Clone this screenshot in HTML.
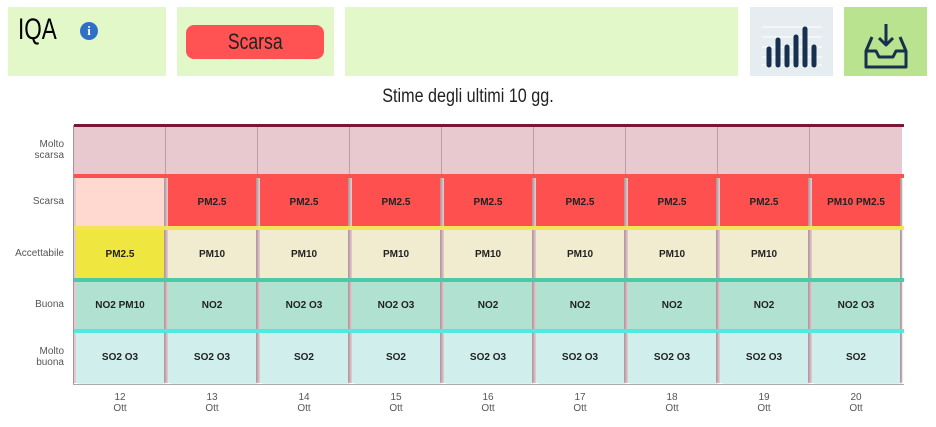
<!DOCTYPE html>
<html><head><meta charset="utf-8"><style>
body{margin:0;width:936px;height:427px;background:#fff;font-family:"Liberation Sans",sans-serif;position:relative;overflow:hidden}
.box{position:absolute;top:7px;height:69px;background:#e2f8c9}
.g{position:absolute;left:74px;top:125px;width:828px;height:258px;display:grid;grid-template-columns:repeat(9,92px);grid-template-rows:51px 52px 52px 51px 52px;background:#e8c9d0}
.g div{margin:0 2px;display:flex;align-items:center;justify-content:center;font-size:10px;font-weight:bold;color:#222;box-shadow:2px 0 2px rgba(0,0,0,.25)}
.e{background:transparent;box-shadow:none!important;border-right:1px solid #b8a0a8;margin:0!important}
.p{background:#ffd8d0}.r{background:#ff5050}.y{background:#f0e640}.c{background:#f1ecd0}.b{background:#b0e1d1}.m{background:#d0eeeb}
.ln{position:absolute;left:74px;width:830px;height:4px}
.yl{position:absolute;right:872px;font-size:10px;color:#555;text-align:right;line-height:11px}
.xl{position:absolute;top:392px;width:92px;text-align:center;font-size:10px;color:#555;line-height:11px}
</style></head><body>
<div class="box" style="left:8px;width:158px"><span style="position:absolute;left:10px;top:6px;font-size:30px;transform:scaleX(.75);transform-origin:left">IQA</span><span style="position:absolute;left:72px;top:15px;width:18px;height:18px;border-radius:50%;background:#2f6fc8;color:#fff;font:bold 13px 'Liberation Serif',serif;text-align:center;line-height:18px">i</span></div>
<div class="box" style="left:177px;width:157px"><div style="position:absolute;left:9px;top:18px;width:138px;height:34px;border-radius:8px;background:#ff5252;text-align:center;line-height:34px;font-size:22px;color:#222"><span style="display:inline-block;transform:scaleX(.8)">Scarsa</span></div></div>
<div class="box" style="left:345px;width:393px"></div>
<div class="box" style="left:750px;width:83px;background:#e6edf0">
<svg width="83" height="69"><g stroke="#fff" stroke-width="1"><line x1="12" y1="20" x2="72" y2="20"/><line x1="12" y1="30" x2="72" y2="30"/><line x1="12" y1="40" x2="72" y2="40"/><line x1="12" y1="50" x2="72" y2="50"/><line x1="12" y1="58" x2="72" y2="58"/></g><g stroke="#16304d" stroke-width="5" stroke-linecap="round"><line x1="19" y1="42" x2="19" y2="58"/><line x1="28" y1="33" x2="28" y2="58"/><line x1="37" y1="40" x2="37" y2="58"/><line x1="46" y1="30" x2="46" y2="58"/><line x1="55" y1="22" x2="55" y2="58"/><line x1="64" y1="40" x2="64" y2="58"/></g></svg></div>
<div class="box" style="left:844px;width:83px;background:#b9e38f">
<svg width="83" height="69"><g fill="none" stroke="#16304d" stroke-width="3" stroke-linejoin="round"><path d="M28 30 L22 44 L22 60 L62 60 L62 44 L56 30"/><path d="M22 44 L32 44 L35 50 L49 50 L52 44 L62 44"/><path d="M42 17 L42 38 M35 31 L42 38 L49 31"/></g></svg></div>
<div style="position:absolute;left:0;width:936px;top:86px;text-align:center;font-size:19px;color:#222;transform:scaleX(.85)">Stime degli ultimi 10 gg.</div>
<div class="yl" style="top:139px">Molto<br>scarsa</div>
<div class="yl" style="top:196px">Scarsa</div>
<div class="yl" style="top:248px">Accettabile</div>
<div class="yl" style="top:299px">Buona</div>
<div class="yl" style="top:346px">Molto<br>buona</div>
<div class="g">
<div class="e"></div><div class="e"></div><div class="e"></div><div class="e"></div><div class="e"></div><div class="e"></div><div class="e"></div><div class="e"></div><div class="e" style="border:0"></div>
<div class="p"></div><div class="r">PM2.5</div><div class="r">PM2.5</div><div class="r">PM2.5</div><div class="r">PM2.5</div><div class="r">PM2.5</div><div class="r">PM2.5</div><div class="r">PM2.5</div><div class="r">PM10 PM2.5</div>
<div class="y">PM2.5</div><div class="c">PM10</div><div class="c">PM10</div><div class="c">PM10</div><div class="c">PM10</div><div class="c">PM10</div><div class="c">PM10</div><div class="c">PM10</div><div class="c"></div>
<div class="b">NO2 PM10</div><div class="b">NO2</div><div class="b">NO2 O3</div><div class="b">NO2 O3</div><div class="b">NO2</div><div class="b">NO2</div><div class="b">NO2</div><div class="b">NO2</div><div class="b">NO2 O3</div>
<div class="m">SO2 O3</div><div class="m">SO2 O3</div><div class="m">SO2</div><div class="m">SO2</div><div class="m">SO2 O3</div><div class="m">SO2 O3</div><div class="m">SO2 O3</div><div class="m">SO2 O3</div><div class="m">SO2</div>
</div>
<div class="ln" style="top:124px;height:3px;background:#7a1838"></div>
<div class="ln" style="top:174px;background:#ff5050"></div>
<div class="ln" style="top:226px;background:#f5e35a"></div>
<div class="ln" style="top:278px;background:#4ccaa6"></div>
<div class="ln" style="top:329px;background:#50e8e0"></div>
<div style="position:absolute;left:73px;top:125px;width:1px;height:260px;background:#999"></div>
<div style="position:absolute;left:73px;top:384px;width:831px;height:1px;background:#aaa"></div>
<div class="xl" style="left:74px">12<br>Ott</div><div class="xl" style="left:166px">13<br>Ott</div><div class="xl" style="left:258px">14<br>Ott</div><div class="xl" style="left:350px">15<br>Ott</div><div class="xl" style="left:442px">16<br>Ott</div><div class="xl" style="left:534px">17<br>Ott</div><div class="xl" style="left:626px">18<br>Ott</div><div class="xl" style="left:718px">19<br>Ott</div><div class="xl" style="left:810px">20<br>Ott</div>
</body></html>
